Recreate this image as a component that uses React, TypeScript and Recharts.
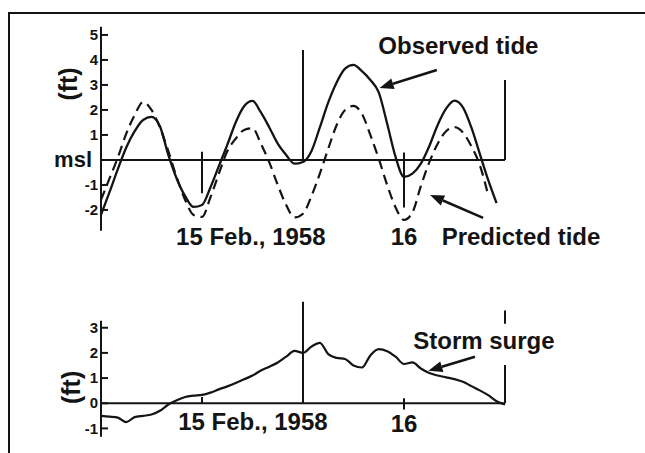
import React from 'react';
import { LineChart, Line, XAxis, YAxis, ReferenceLine, ReferenceDot } from 'recharts';

// hours after the start of the record (0 = noon, 14 Feb 1958)
const hours = [0, 1, 2, 3, 4, 5, 6, 7, 8, 9, 10, 11, 12, 13, 14, 15, 16, 17, 18, 19, 20, 21, 22, 23, 24,
  25, 26, 27, 28, 29, 30, 31, 32, 33, 34, 35, 36, 37, 38, 39, 40, 41, 42, 43, 44, 45, 46, 47, 48];

// feet relative to mean sea level
const observedTide = [-2.2, -1.3, -0.37, 0.5, 1.15, 1.6, 1.72, 1.35, 0.2, -0.75, -1.45, -1.88, -1.8, -1.1, -0.25,
  0.6, 1.5, 2.15, 2.36, 1.9, 1.3, 0.65, 0.2, -0.15, -0.08, 0.35, 1.3, 2.3, 3.1, 3.65, 3.8, 3.55, 3.2, 2.7, 1.45,
  0.12, -0.68, -0.55, -0.15, 0.55, 1.4, 2.05, 2.37, 2.1, 1.3, 0.25, -0.8, -1.73, null];

const predictedTide = [-1.6, -0.75, 0.1, 1.05, 1.8, 2.32, 2.0, 1.3, 0.35, -0.7, -1.6, -2.2, -2.28, -1.5, -0.55,
  0.35, 0.85, 1.2, 1.27, 0.65, -0.1, -1.0, -1.8, -2.3, -2.15, -1.45, -0.55, 0.45, 1.4, 2.0, 2.16, 1.85, 1.0,
  0.05, -1.0, -1.9, -2.4, -2.1, -1.05, -0.1, 0.65, 1.15, 1.31, 1.1, 0.55, -0.2, -1.4, null, null];

const stormSurge = [-0.5, -0.53, -0.57, -0.75, -0.55, -0.5, -0.45, -0.3, -0.05, 0.12, 0.25, 0.3, 0.33, 0.42, 0.55,
  0.67, 0.8, 0.95, 1.1, 1.3, 1.45, 1.62, 1.85, 2.08, 2.0, 2.25, 2.4, 1.95, 1.8, 1.76, 1.5, 1.42, 1.9, 2.15, 2.07,
  1.85, 1.56, 1.62, 1.38, 1.2, 1.1, 1.03, 0.96, 0.85, 0.68, 0.51, 0.32, 0.08, -0.05];

const tideTicks = [-2, -1, 0, 1, 2, 3, 4, 5];
const surgeTicks = [-1, 0, 1, 2, 3];
const dateLabels = ['15 Feb., 1958', '16'];
const unitLabel = '(ft)';
const mslLabel = 'msl';
const observedLabel = 'Observed tide';
const predictedLabel = 'Predicted tide';
const surgeLabel = 'Storm surge';

const tideData = hours.map((h, i) => ({ h, observed: observedTide[i], predicted: predictedTide[i] }));
const surgeData = hours.map((h, i) => ({ h, surge: stormSurge[i] }));

const INK = '#141414';
const FONT = '"Liberation Sans", Arial, Helvetica, sans-serif';

function AxisTick(props: any) {
  const { x, y, payload, msl } = props;
  if (msl && payload.value === 0) {
    return (
      <text x={x - 9} y={y + 7} textAnchor="end" fontSize={22} fontWeight={700} fill={INK} fontFamily={FONT}>
        {mslLabel}
      </text>
    );
  }
  return (
    <g>
      <line x1={x} x2={x + 7} y1={y} y2={y} stroke={INK} strokeWidth={2} />
      <text x={x - 3} y={y} dy="0.35em" textAnchor="end" fontSize={15} fontWeight={700} fill={INK} fontFamily={FONT}>
        {payload.value}
      </text>
    </g>
  );
}

const arrowShape = (p: any) => {
  const { x1, y1, x2, y2 } = p;
  const ang = Math.atan2(y2 - y1, x2 - x1);
  const L = 14;
  const W = 5.5;
  const bx = x2 - L * Math.cos(ang);
  const by = y2 - L * Math.sin(ang);
  const px = -Math.sin(ang) * W;
  const py = Math.cos(ang) * W;
  return (
    <g>
      <line x1={x1} y1={y1} x2={bx} y2={by} stroke={INK} strokeWidth={2.5} />
      <polygon points={`${x2},${y2} ${bx + px},${by + py} ${bx - px},${by - py}`} fill={INK} />
    </g>
  );
};

const textShape = (label: string, size: number, rotate = false) => (p: any) => (
  <text
    x={p.cx}
    y={p.cy}
    textAnchor="middle"
    dominantBaseline={rotate ? 'central' : 'auto'}
    transform={rotate ? `rotate(-90, ${p.cx}, ${p.cy})` : undefined}
    fontSize={size}
    fontWeight={700}
    fill={INK}
    fontFamily={FONT}
  >
    {label}
  </text>
);

const plainLine = (p: any) => (
  <line x1={p.x1} y1={p.y1} x2={p.x2} y2={p.y2} stroke={INK} strokeWidth={2} />
);

export default function App() {
  return (
    <div style={{ position: 'absolute', left: 0, top: 0, width: 645, height: 453, background: '#fff', fontFamily: FONT }}>
      <div style={{ position: 'absolute', left: 9, top: 12, width: 636, height: 2, background: INK }} />
      <div style={{ position: 'absolute', left: 8, top: 12, width: 2, height: 441, background: INK }} />

      <div style={{ position: 'absolute', left: 0, top: 0 }}>
        <LineChart width={645} height={260} data={tideData} margin={{ top: 26.7, right: 140, bottom: 29.3, left: 41 }}>
          <XAxis type="number" dataKey="h" domain={[0, 48]} hide />
          <YAxis
            type="number"
            domain={[-2.83, 5.33]}
            ticks={tideTicks}
            width={60}
            tickSize={0}
            tickMargin={0}
            tickLine={false}
            allowDataOverflow
            axisLine={{ stroke: INK, strokeWidth: 2 }}
            tick={(p: any) => <AxisTick {...p} msl />}
          />
          <ReferenceLine y={0} shape={plainLine} />
          <ReferenceLine segment={[{ x: 24, y: 0 }, { x: 24, y: 4.4 }]} ifOverflow="visible" shape={plainLine} />
          <ReferenceLine segment={[{ x: 48, y: 0 }, { x: 48, y: 3.2 }]} ifOverflow="visible" shape={plainLine} />
          <ReferenceLine segment={[{ x: 12, y: 0.33 }, { x: 12, y: -1.33 }]} ifOverflow="visible" shape={plainLine} />
          <ReferenceLine segment={[{ x: 36, y: 0.3 }, { x: 36, y: -1.9 }]} ifOverflow="visible" shape={plainLine} />
          <Line type="monotone" dataKey="predicted" stroke={INK} strokeWidth={2.2} strokeDasharray="10 6" dot={false} isAnimationActive={false} />
          <Line type="monotone" dataKey="observed" stroke={INK} strokeWidth={2.3} dot={false} isAnimationActive={false} />
          <ReferenceLine segment={[{ x: 39.9, y: 3.6 }, { x: 33.1, y: 2.88 }]} ifOverflow="visible" shape={arrowShape} />
          <ReferenceLine segment={[{ x: 45.4, y: -2.32 }, { x: 39.1, y: -1.4 }]} ifOverflow="visible" shape={arrowShape} />
          <ReferenceDot x={42.46} y={4.24} r={0} ifOverflow="visible" shape={textShape(observedLabel, 24)} />
          <ReferenceDot x={49.9} y={-3.4} r={0} ifOverflow="visible" shape={textShape(predictedLabel, 24)} />
          <ReferenceDot x={17.8} y={-3.4} r={0} ifOverflow="visible" shape={textShape(dateLabels[0], 24)} />
          <ReferenceDot x={36} y={-3.4} r={0} ifOverflow="visible" shape={textShape(dateLabels[1], 24)} />
          <ReferenceDot x={-3.86} y={3.04} r={0} ifOverflow="visible" shape={textShape(unitLabel, 25, true)} />
        </LineChart>
      </div>

      <div style={{ position: 'absolute', left: 0, top: 260 }}>
        <LineChart width={645} height={193} data={surgeData} margin={{ top: 60.7, right: 140, bottom: 16.3, left: 41 }}>
          <XAxis type="number" dataKey="h" domain={[0, 48]} hide />
          <YAxis
            type="number"
            domain={[-1.33, 3.28]}
            ticks={surgeTicks}
            width={60}
            tickSize={0}
            tickMargin={0}
            tickLine={false}
            allowDataOverflow
            axisLine={{ stroke: INK, strokeWidth: 2 }}
            tick={(p: any) => <AxisTick {...p} />}
          />
          <ReferenceLine y={0} shape={plainLine} />
          <ReferenceLine segment={[{ x: 24, y: 0 }, { x: 24, y: 4.03 }]} ifOverflow="visible" shape={plainLine} />
          <ReferenceLine segment={[{ x: 48, y: 0 }, { x: 48, y: 1.52 }]} ifOverflow="visible" shape={plainLine} />
          <ReferenceLine segment={[{ x: 48, y: 3.16 }, { x: 48, y: 3.69 }]} ifOverflow="visible" shape={plainLine} />
          <ReferenceLine segment={[{ x: 12, y: 0 }, { x: 12, y: 0.25 }]} ifOverflow="visible" shape={plainLine} />
          <ReferenceLine segment={[{ x: 36, y: -0.25 }, { x: 36, y: 0.2 }]} ifOverflow="visible" shape={plainLine} />
          <Line type="monotone" dataKey="surge" stroke={INK} strokeWidth={2.2} dot={false} isAnimationActive={false} />
          <ReferenceLine segment={[{ x: 44.43, y: 1.85 }, { x: 38.9, y: 1.29 }]} ifOverflow="visible" shape={arrowShape} />
          <ReferenceDot x={45.5} y={2.14} r={0} ifOverflow="visible" shape={textShape(surgeLabel, 24)} />
          <ReferenceDot x={18.05} y={-1.06} r={0} ifOverflow="visible" shape={textShape(dateLabels[0], 24)} />
          <ReferenceDot x={36} y={-1.14} r={0} ifOverflow="visible" shape={textShape(dateLabels[1], 24)} />
          <ReferenceDot x={-3.62} y={0.63} r={0} ifOverflow="visible" shape={textShape(unitLabel, 25, true)} />
        </LineChart>
      </div>
    </div>
  );
}
